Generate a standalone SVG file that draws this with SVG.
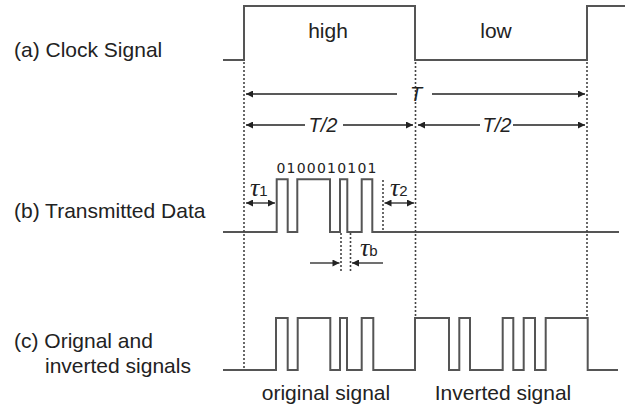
<svg xmlns="http://www.w3.org/2000/svg" width="625" height="410" viewBox="0 0 625 410">
<defs>
<marker id="ah" viewBox="0 0 10 10" refX="10" refY="5" markerWidth="9" markerHeight="7" markerUnits="userSpaceOnUse" orient="auto-start-reverse">
<path d="M0,0 L10,5 L0,10 z" fill="#222"/>
</marker>
<style>
.sig{fill:none;stroke:#555;stroke-width:2;stroke-linejoin:miter}
.dot{fill:none;stroke:#444;stroke-width:1.6;stroke-dasharray:2,2}
.arr{fill:none;stroke:#222;stroke-width:1.3}
.lbl{font-family:"Liberation Sans",Arial,sans-serif;font-size:21px;fill:#222}
.it{font-family:"Liberation Sans",Arial,sans-serif;font-size:20px;font-style:italic;fill:#222}
.tau{font-family:"Liberation Serif","Times New Roman",serif;font-size:26px;font-style:italic;fill:#222}
.sub{font-family:"Liberation Sans",Arial,sans-serif;font-size:15px;fill:#222}
.bits{font-family:"DejaVu Sans",Verdana,sans-serif;font-size:14px;fill:#222}
</style>
</defs>
<g id="labels">
<text class="lbl" x="14" y="57">(a) Clock Signal</text>
<text class="lbl" x="14" y="218">(b) Transmitted Data</text>
<text class="lbl" x="14" y="348">(c) Orignal and</text>
<text class="lbl" x="45" y="373">inverted signals</text>
</g>
<g id="clock">
<path class="sig" d="M223,60 H244 V6 H415 V60 H587 V6 H625"/>
<text class="lbl" x="328" y="38" text-anchor="middle">high</text>
<text class="lbl" x="496" y="38" text-anchor="middle">low</text>
</g>
<g id="data">
<path class="sig" d="M223,232 H276.7 V179.3 H287.7 V232 H297.3 V179.3 H330 V232 H340 V179.3 H347.3 V232 H361.7 V179.3 H372.3 V232 H619"/>
<text class="bits" x="276.5" y="172.5" textLength="100" lengthAdjust="spacing">0100010101</text>
</g>
<g id="combined">
<path class="sig" d="M223,370 H276 V318 H287.7 V370 H297.7 V318 H330.3 V370 H340 V318 H347 V370 H361.7 V318 H373.3 V370 H415 V318 H449 V370 H459.3 V318 H470 V370 H502.7 V318 H513.3 V370 H523.7 V318 H535 V370 H545.7 V318 H587.7 V370 H618"/>
<text class="lbl" x="326" y="400" text-anchor="middle">original signal</text>
<text class="lbl" x="503" y="400" text-anchor="middle">Inverted signal</text>
</g>
<g id="connectors">
<path class="dot" d="M244,62 V370"/>
<path class="dot" d="M415.5,62 V318"/>
<path class="dot" d="M587,62 V318"/>
<path class="dot" d="M383,180 V232"/>
<path class="dot" d="M341,233 V272"/>
<path class="dot" d="M350.5,233 V272"/>
<line class="arr" x1="397" y1="94" x2="246" y2="94" marker-end="url(#ah)"/>
<line class="arr" x1="432" y1="94" x2="585" y2="94" marker-end="url(#ah)"/>
<line class="arr" x1="305" y1="125" x2="246" y2="125" marker-end="url(#ah)"/>
<line class="arr" x1="343" y1="125" x2="413" y2="125" marker-end="url(#ah)"/>
<line class="arr" x1="480" y1="125" x2="418" y2="125" marker-end="url(#ah)"/>
<line class="arr" x1="513" y1="125" x2="585" y2="125" marker-end="url(#ah)"/>
<line class="arr" x1="246" y1="203" x2="275" y2="203" marker-start="url(#ah)" marker-end="url(#ah)"/>
<line class="arr" x1="384.5" y1="203" x2="414" y2="203" marker-start="url(#ah)" marker-end="url(#ah)"/>
<line class="arr" x1="310" y1="263" x2="339.5" y2="263" marker-end="url(#ah)"/>
<line class="arr" x1="383" y1="263" x2="352" y2="263" marker-end="url(#ah)"/>
</g>
<g id="dims">
<text class="it" x="416" y="101" text-anchor="middle">T</text>
<text class="it" x="323" y="132" text-anchor="middle">T/2</text>
<text class="it" x="497" y="132" text-anchor="middle">T/2</text>
<text class="tau" x="250" y="196">τ<tspan class="sub" font-style="normal">1</tspan></text>
<text class="tau" x="390" y="196">τ<tspan class="sub" font-style="normal">2</tspan></text>
<text class="tau" x="360" y="256">τ<tspan class="sub" font-style="normal">b</tspan></text>
</g>
</svg>
